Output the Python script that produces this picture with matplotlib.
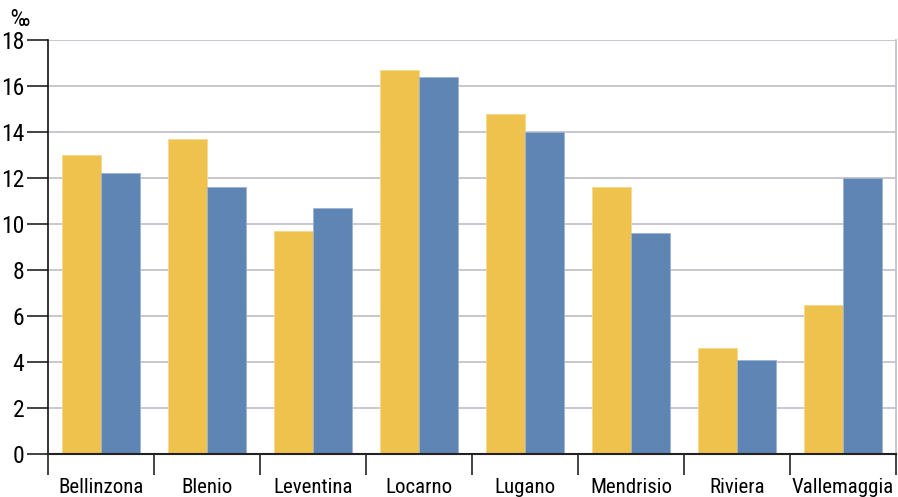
import numpy as np
import matplotlib.pyplot as plt
from matplotlib import font_manager

# Regions and the two series (per mille)
regions = ["Bellinzona", "Blenio", "Leventina", "Locarno", "Lugano",
           "Mendrisio", "Riviera", "Vallemaggia"]
series_a = [13.0, 13.7, 9.7, 16.7, 14.8, 11.6, 4.6, 6.5]
series_b = [12.2, 11.6, 10.7, 16.4, 14.0, 9.6, 4.1, 12.0]
y_ticks = [0, 2, 4, 6, 8, 10, 12, 14, 16, 18]

# pick a narrow-ish family if one is around
names = {f.name for f in font_manager.fontManager.ttflist}
family = "DejaVu Sans"
for cand in ["Roboto Condensed", "Liberation Sans Narrow", "Open Sans Condensed",
             "Noto Sans Condensed", "DejaVu Sans Condensed", "Roboto"]:
    if cand in names:
        family = cand
        break
plt.rcParams['font.family'] = [family, 'DejaVu Sans']

fig = plt.figure(figsize=(8.98, 4.97), dpi=100)
ax = fig.add_axes([48 / 898, 1 - 454 / 497, 848 / 898, 414 / 497])

x = np.arange(len(regions))
w = 0.365
ax.bar(x - w / 2, series_a, width=w, color="#EFC24E", edgecolor="#F5D98A", linewidth=0.6, zorder=3)
ax.bar(x + w / 2, series_b, width=w, color="#5F85B4", edgecolor="#9DB3D2", linewidth=0.6, zorder=3)

ax.set_xlim(-0.5, len(regions) - 0.5)
ax.set_ylim(0, 18)
ax.set_yticks(y_ticks)
ax.set_yticklabels([str(v) for v in y_ticks], fontsize=17)
ax.yaxis.grid(True, color="#BDBDC8", linewidth=1.2, zorder=0)

# category labels centered, ticks at boundaries
ax.set_xticks(np.arange(len(regions) + 1) - 0.5)
ax.set_xticklabels([])
ax.set_xticks(x, minor=True)
ax.set_xticklabels(regions, minor=True, fontsize=15)
ax.tick_params(axis="x", which="major", length=15, width=1.2, color="#222222")
ax.tick_params(axis="x", which="minor", length=0, pad=17)
ax.tick_params(axis="y", length=15, width=1.2, color="#222222", pad=2)

ax.spines["top"].set_visible(False)
ax.spines["right"].set_color("#BDBDC8")
ax.spines["right"].set_linewidth(1.2)
ax.spines["left"].set_color("#111111")
ax.spines["left"].set_linewidth(1.2)
ax.spines["bottom"].set_color("#222222")
ax.spines["bottom"].set_linewidth(1.5)
ax.spines["bottom"].set_zorder(4)

fig.text(10 / 898, 1 - 26 / 497, "‰", fontsize=17, ha="left", va="baseline")

fig.savefig("out.png", dpi=100)
